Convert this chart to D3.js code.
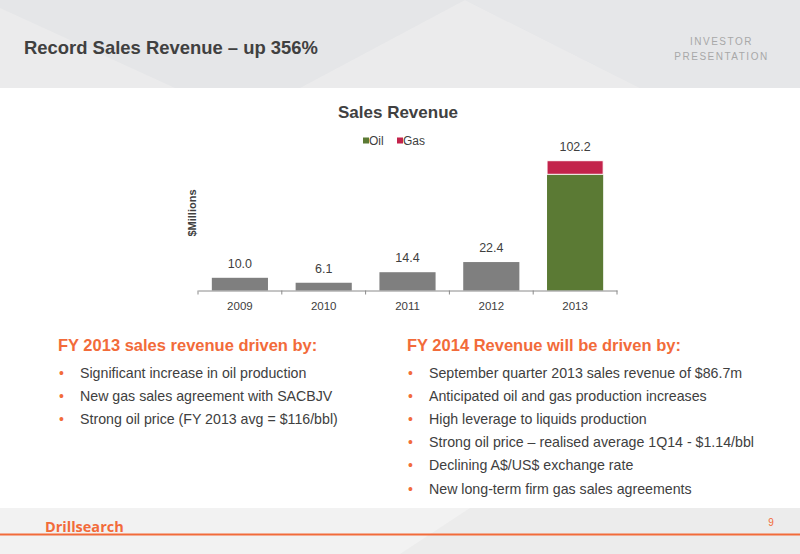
<!DOCTYPE html>
<html><head><meta charset="utf-8">
<script src="https://cdn.jsdelivr.net/npm/d3@7"></script>
<style>
html,body{margin:0;padding:0;background:#fff;}
svg{display:block;font-family:"Liberation Sans",Arial,sans-serif;}
</style></head>
<body>
<svg id="c" width="800" height="554"></svg>
<script>
const years = ["2009","2010","2011","2012","2013"];
const otherValues = [10.0, 6.1, 14.4, 22.4, 0];
const oilValues = [0, 0, 0, 0, 91.5];
const gasValues = [0, 0, 0, 0, 10.7];
const totalLabels = ["10.0","6.1","14.4","22.4","102.2"];
const seriesNames = ["Oil","Gas"];
const leftHeading = "FY 2013 sales revenue driven by:";
const leftBullets = ["Significant increase in oil production","New gas sales agreement with SACBJV","Strong oil price (FY 2013 avg = $116/bbl)"];
const rightHeading = "FY 2014 Revenue will be driven by:";
const rightBullets = ["September quarter 2013 sales revenue of $86.7m","Anticipated oil and gas production increases","High leverage to liquids production","Strong oil price \u2013 realised average 1Q14 - $1.14/bbl","Declining A$/US$ exchange rate","New long-term firm gas sales agreements"];

const svg = d3.select("#c");
const orange = "#f26b3a", dark = "#404040";

// header
svg.append("rect").attr("x",0).attr("y",0).attr("width",800).attr("height",88).attr("fill","#e5e6e8");
svg.append("polygon").attr("points","0,8 175,88 0,88").attr("fill","#ebebec");
svg.append("polygon").attr("points","465,0 300,88 640,88").attr("fill","#ebebec");
svg.append("polygon").attr("points","465,0 800,0 800,88 640,88").attr("fill","#e6e7e9");
svg.append("text").attr("x",24).attr("y",54).attr("font-size",19).attr("font-weight","bold")
  .attr("textLength",294).attr("lengthAdjust","spacingAndGlyphs")
  .attr("fill",dark).text("Record Sales Revenue \u2013 up 356%");
svg.append("text").attr("x",721.5).attr("y",45).attr("text-anchor","middle").attr("font-size",10)
  .attr("letter-spacing",1.5).attr("fill","#a8a8a8").text("INVESTOR");
svg.append("text").attr("x",721.5).attr("y",60).attr("text-anchor","middle").attr("font-size",10)
  .attr("letter-spacing",1.5).attr("fill","#a8a8a8").text("PRESENTATION");

// footer
svg.append("rect").attr("x",0).attr("y",508).attr("width",800).attr("height",46).attr("fill","#f2f2f2");
svg.append("polygon").attr("points","470,508 800,508 800,554 400,554").attr("fill","#ececec");
svg.append("rect").attr("x",0).attr("y",533.5).attr("width",800).attr("height",2).attr("fill",orange);
svg.append("text").attr("x",45).attr("y",532).attr("font-size",14.5).attr("font-weight","bold")
  .attr("fill",orange).attr("font-family","'Open Sans',sans-serif").text("Drillsearch");
svg.append("text").attr("x",771).attr("y",526).attr("text-anchor","middle").attr("font-size",10)
  .attr("fill",orange).text("9");

// chart
const x = d3.scaleBand().domain(years).range([198,617]).paddingInner(0.33).paddingOuter(0.165);
const y = d3.scaleLinear().domain([0,120]).range([290.5,138.1]);

svg.append("text").attr("x",398).attr("y",118).attr("text-anchor","middle").attr("font-size",17)
  .attr("font-weight","bold").attr("fill",dark).text("Sales Revenue");

// legend
const legColors = ["#5b7a34","#c3234b"];
const legX = [363,397];
seriesNames.forEach((n,i)=>{
  svg.append("rect").attr("x",legX[i]).attr("y",137.5).attr("width",6).attr("height",6).attr("fill",legColors[i]);
  svg.append("text").attr("x",legX[i]+6).attr("y",145).attr("font-size",12).attr("fill",dark).text(n);
});

svg.append("text").attr("transform","translate(196,213) rotate(-90)").attr("text-anchor","middle")
  .attr("font-size",11).attr("font-weight","bold").attr("fill",dark).text("$Millions");

const g = svg.append("g");
g.selectAll("rect.o").data(years).join("rect").attr("class","o")
  .attr("x",d=>x(d)).attr("width",x.bandwidth())
  .attr("y",(d,i)=>y(otherValues[i])).attr("height",(d,i)=>y(0)-y(otherValues[i]))
  .attr("fill","#7f7f7f");
g.selectAll("rect.oil").data(years).join("rect").attr("class","oil")
  .attr("x",d=>x(d)).attr("width",x.bandwidth())
  .attr("y",(d,i)=>y(oilValues[i])).attr("height",(d,i)=>y(0)-y(oilValues[i]))
  .attr("fill","#5b7a34");
g.selectAll("rect.gas").data(years).join("rect").attr("class","gas")
  .attr("x",d=>x(d)).attr("width",x.bandwidth())
  .attr("y",(d,i)=>y(oilValues[i]+gasValues[i])).attr("height",(d,i)=>y(0)-y(gasValues[i]))
  .attr("fill","#c3234b").attr("stroke",(d,i)=>gasValues[i]>0?"#fff":"none").attr("stroke-width",1);
g.selectAll("text.v").data(years).join("text").attr("class","v")
  .attr("x",d=>x(d)+x.bandwidth()/2)
  .attr("y",(d,i)=>y(otherValues[i]+oilValues[i]+gasValues[i])-10)
  .attr("text-anchor","middle").attr("font-size",12.5).attr("fill",dark).text((d,i)=>totalLabels[i]);

const xAxis = d3.axisBottom(x).tickSize(0).tickPadding(11);
const ax = svg.append("g").attr("transform","translate(0,290.5)").call(xAxis);
ax.select(".domain").attr("stroke","#8a8a8a");
ax.selectAll("text").attr("font-size",11.5).attr("fill",dark).attr("font-family","'Liberation Sans',Arial,sans-serif");
const bounds = [198].concat(years.map(d=>x(d)+x.bandwidth()+x.step()*x.paddingInner()/2));
bounds[bounds.length-1]=617;
ax.selectAll("line.b").data(bounds).join("line").attr("class","b")
  .attr("x1",d=>d).attr("x2",d=>d).attr("y1",0).attr("y2",4).attr("stroke","#8a8a8a");

// bullets
function block(x0, heading, items){
  svg.append("text").attr("x",x0).attr("y",351).attr("font-size",16.5).attr("font-weight","bold")
    .attr("fill",orange).text(heading);
  items.forEach((t,i)=>{
    const yy = 377.5 + i*23.2;
    svg.append("text").attr("x",x0+1).attr("y",yy).attr("font-size",14).attr("fill",orange).text("\u2022");
    svg.append("text").attr("x",x0+22).attr("y",yy).attr("font-size",14.2).attr("fill",dark).text(t);
  });
}
block(58, leftHeading, leftBullets);
block(407, rightHeading, rightBullets);
</script>
</body></html>
